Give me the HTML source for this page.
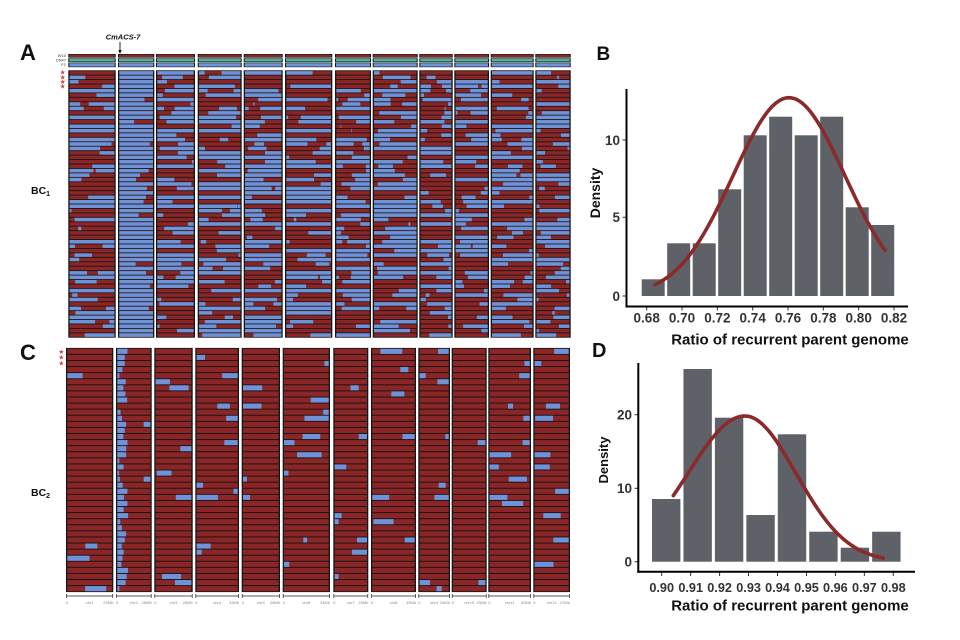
<!DOCTYPE html>
<html><head><meta charset="utf-8">
<style>
html,body{margin:0;padding:0;background:#fff;width:960px;height:640px;overflow:hidden}
svg{display:block}
text{font-family:"Liberation Sans",Arial,sans-serif}
</style></head>
<body>
<svg id="s" width="960" height="640" viewBox="0 0 960 640" xmlns="http://www.w3.org/2000/svg">
<rect x="0" y="0" width="960" height="640" fill="#fff"/>
<g id="heat"></g>
<g id="plots"></g>

<!-- Panel letters -->
<text x="20" y="60" font-size="22" font-weight="bold" fill="#111">A</text>
<text x="20" y="360" font-size="22" font-weight="bold" fill="#111">C</text>
<text x="596.5" y="60" font-size="19" font-weight="bold" fill="#111">B</text>
<text x="592" y="357" font-size="20" font-weight="bold" fill="#111">D</text>

<!-- BC labels -->
<text x="31" y="194" font-size="10.5" font-weight="bold" fill="#111">BC<tspan font-size="7" dy="2">1</tspan></text>
<text x="31" y="496" font-size="10.5" font-weight="bold" fill="#111">BC<tspan font-size="7" dy="2">2</tspan></text>

<!-- CmACS-7 marker -->
<text x="123" y="39.5" font-size="7.5" font-weight="bold" font-style="italic" text-anchor="middle" fill="#111">CmACS-7</text>
<line x1="120" y1="42" x2="120" y2="51" stroke="#111" stroke-width="0.9"/>
<polygon points="118.3,50 121.7,50 120,54" fill="#111"/>

<!-- header row labels -->
<g font-size="4" fill="#333" text-anchor="end">
<text x="66" y="57">W10</text>
<text x="66" y="61.5">CN47</text>
<text x="66" y="66">F1</text>
</g>

<!-- stars -->
<g font-size="6.5" fill="#d03a3a" text-anchor="middle">
<text x="62.7" y="74.6">★</text>
<text x="62.7" y="79.3">★</text>
<text x="62.7" y="84">★</text>
<text x="62.7" y="88.6">★</text>
<text x="61.3" y="354">★</text>
<text x="61.3" y="359.6">★</text>
<text x="61.3" y="365.6">★</text>
</g>

<!-- C bottom chromosome labels -->
<g font-size="4" fill="#888">
<text x="66" y="604">0</text><text x="89.6" y="604" text-anchor="middle">chr1</text><text x="113.3" y="604" text-anchor="end">29Mb</text>
<text x="116" y="604">0</text><text x="133.8" y="604" text-anchor="middle">chr2</text><text x="151.7" y="604" text-anchor="end">25Mb</text>
<text x="154.3" y="604">0</text><text x="173.5" y="604" text-anchor="middle">chr3</text><text x="192.7" y="604" text-anchor="end">28Mb</text>
<text x="195.3" y="604">0</text><text x="217.1" y="604" text-anchor="middle">chr4</text><text x="239" y="604" text-anchor="end">32Mb</text>
<text x="241.7" y="604">0</text><text x="260.8" y="604" text-anchor="middle">chr5</text><text x="280" y="604" text-anchor="end">28Mb</text>
<text x="282.7" y="604">0</text><text x="306.3" y="604" text-anchor="middle">chr6</text><text x="330" y="604" text-anchor="end">34Mb</text>
<text x="333.3" y="604">0</text><text x="350.8" y="604" text-anchor="middle">chr7</text><text x="368.3" y="604" text-anchor="end">25Mb</text>
<text x="371" y="604">0</text><text x="393.5" y="604" text-anchor="middle">chr8</text><text x="416" y="604" text-anchor="end">32Mb</text>
<text x="418.3" y="604">0</text><text x="434.1" y="604" text-anchor="middle">chr9</text><text x="450" y="604" text-anchor="end">24Mb</text>
<text x="451.7" y="604">0</text><text x="469.2" y="604" text-anchor="middle">chr10</text><text x="486.7" y="604" text-anchor="end">25Mb</text>
<text x="488.3" y="604">0</text><text x="509.6" y="604" text-anchor="middle">chr11</text><text x="531" y="604" text-anchor="end">30Mb</text>
<text x="533.3" y="604">0</text><text x="551.6" y="604" text-anchor="middle">chr12</text><text x="570" y="604" text-anchor="end">27Mb</text>
</g>

<!-- Panel B axes -->
<line x1="626.5" y1="89" x2="626.5" y2="307.5" stroke="#000" stroke-width="2"/>
<line x1="625.5" y1="306.5" x2="908" y2="306.5" stroke="#000" stroke-width="2"/>
<g font-size="13.5" font-weight="bold" fill="#333" text-anchor="end">
<text x="620" y="300.8">0</text>
<text x="620" y="222">5</text>
<text x="620" y="144.8">10</text>
</g>
<g font-size="13.5" font-weight="bold" fill="#333" text-anchor="middle">
<text x="646.7" y="322.5">0.68</text>
<text x="682" y="322.5">0.70</text>
<text x="717.4" y="322.5">0.72</text>
<text x="752.7" y="322.5">0.74</text>
<text x="788" y="322.5">0.76</text>
<text x="823.4" y="322.5">0.78</text>
<text x="858.7" y="322.5">0.80</text>
<text x="894" y="322.5">0.82</text>
</g>
<text x="790" y="344.5" font-size="15" font-weight="bold" fill="#111" text-anchor="middle">Ratio of recurrent parent genome</text>
<text transform="translate(600,193) rotate(-90)" font-size="14" font-weight="bold" fill="#111" text-anchor="middle">Density</text>

<!-- Panel D axes -->
<line x1="638.3" y1="363" x2="638.3" y2="572.7" stroke="#000" stroke-width="2"/>
<line x1="637.3" y1="571.7" x2="915" y2="571.7" stroke="#000" stroke-width="2"/>
<g font-size="13.5" font-weight="bold" fill="#333" text-anchor="end">
<text x="632" y="566.5">0</text>
<text x="632" y="493.1">10</text>
<text x="632" y="419.5">20</text>
</g>
<g font-size="12.7" font-weight="bold" fill="#333" text-anchor="middle">
<text x="661.7" y="592">0.90</text>
<text x="690.7" y="592">0.91</text>
<text x="719.6" y="592">0.92</text>
<text x="748.6" y="592">0.93</text>
<text x="777.5" y="592">0.94</text>
<text x="806.5" y="592">0.95</text>
<text x="835.4" y="592">0.96</text>
<text x="864.4" y="592">0.97</text>
<text x="893.3" y="592">0.98</text>
</g>
<text x="790" y="610.5" font-size="15" font-weight="bold" fill="#111" text-anchor="middle">Ratio of recurrent parent genome</text>
<text transform="translate(608,460) rotate(-90)" font-size="13" font-weight="bold" fill="#111" text-anchor="middle">Density</text>
</svg>

<script>
(function(){
var R='#8c2626',B='#6e93d8',K='#161616';
function rng(a){return function(){a|=0;a=a+0x6D2B79F5|0;var t=Math.imul(a^a>>>15,1|a);t=t+Math.imul(t^t>>>7,61|t)^t;return((t^t>>>14)>>>0)/4294967296;}}
var r=rng(20240611);
var out=[];
function rect(x,y,w,h,f){out.push('<rect x="'+x.toFixed(2)+'" y="'+y.toFixed(2)+'" width="'+Math.max(0,w).toFixed(2)+'" height="'+h.toFixed(2)+'" fill="'+f+'"/>');}
function line(x1,y1,x2,y2,c,sw){out.push('<line x1="'+x1+'" y1="'+y1+'" x2="'+x2+'" y2="'+y2+'" stroke="'+c+'" stroke-width="'+sw+'"/>');}

var colsA=[[68.3,115.7],[118,154.3],[156,195],[197.7,241.7],[243.7,282.7],[285,332.3],[335,371],[372.7,417.7],[419.3,452.7],[454.3,489],[490.7,533.7],[535.3,570.7]];
var colsC=[[66,113.3],[116,151.7],[154.3,192.7],[195.3,239],[241.7,280],[282.7,330],[333.3,368.3],[371,416],[418.3,450],[451.7,486.7],[488.3,531],[533.3,570]];
var pA=[0.4,1,0.45,0.4,0.55,0.4,0.35,0.5,0.32,0.45,0.45,0.5];

/* header bars */
colsA.forEach(function(c){
  var w=c[1]-c[0];
  rect(c[0],54,w,3.6,K); rect(c[0]+1,54.6,w-2,2.4,R);
  rect(c[0],58.3,w,3.8,K); rect(c[0]+1,58.9,w-2,2.6,'#4fb596');
  rect(c[0],62.6,w,4.6,K); rect(c[0]+1,63.2,w-2,3.4,B);
});

/* Panel A */
var yA0=70.7,yA1=337.3,nA=60,hA=(yA1-yA0)/nA;
colsA.forEach(function(c,ci){
  rect(c[0],yA0-0.4,c[1]-c[0],yA1-yA0+0.8,K);
  for(var i=0;i<nA;i++){
    var y=yA0+i*hA+0.45,h=hA-0.9,x0=c[0]+1.3,x1=c[1]-1.3,w=x1-x0;
    rect(x0,y,w,h,R);
    var blues=[];
    if(ci==1){
      if(r()<0.2){blues.push([0,0.3+r()*0.65]);} else blues.push([0,1]);
    } else {
      var st=r()<pA[ci],u=r(),k=u<0.42?0:(u<0.9?1:2),bp=[];
      for(var j=0;j<k;j++)bp.push(0.04+r()*0.92);
      bp.sort(function(a,b){return a-b;});
      var pts=[0].concat(bp,[1]),s=st;
      for(var j=0;j<pts.length-1;j++){if(s)blues.push([pts[j],pts[j+1]]);s=!s;}
    }
    blues.forEach(function(b){rect(x0+b[0]*w,y,(b[1]-b[0])*w,h,B);});
  }
});

/* Panel C */
var yC0=348.3,yC1=591.7,nC=40,hC=(yC1-yC0)/nC;
colsC.forEach(function(c,ci){
  rect(c[0],yC0-0.4,c[1]-c[0],yC1-yC0+0.8,K);
  for(var i=0;i<nC;i++){
    var y=yC0+i*hC+0.5,h=hC-1,x0=c[0]+1.3,x1=c[1]-1.3,w=x1-x0;
    rect(x0,y,w,h,R);
    var blues=[];
    if(ci==1){
      if(r()<0.9)blues.push([0,0.05+r()*0.28]);
      if(r()<0.08){var a=0.3+r()*0.5;blues.push([a,Math.min(1,a+0.1+r()*0.3)]);}
    } else {
      var p=(ci==11)?0.25:0.17;
      if(r()<p){
        var t=r(),L=0.06+r()*0.5;
        if(t<0.35)blues.push([0,L]);
        else if(t<0.7)blues.push([1-L,1]);
        else{var a2=r()*(1-L);blues.push([a2,a2+L]);}
      }
    }
    blues.forEach(function(b){rect(x0+b[0]*w,y,(b[1]-b[0])*w,h,B);});
  }
  /* bottom scale */
  line(c[0]+0.5,596,c[1]-0.5,596,'#222',0.7);
  line(c[0]+0.5,594,c[0]+0.5,598,'#222',0.7);
  line(c[1]-0.5,594,c[1]-0.5,598,'#222',0.7);
});
document.getElementById('heat').innerHTML=out.join('');

/* plots */
var p=[];
var G='#5e6168';
var bt=[279.3,243.3,243.3,189.3,135.3,116.7,135.3,116.7,207.3,225];
for(var i=0;i<10;i++){var x=641.7+i*25.5;p.push('<rect x="'+x.toFixed(2)+'" y="'+bt[i]+'" width="23" height="'+(296-bt[i]).toFixed(2)+'" fill="'+G+'"/>');}
var dt=[499,369,417.7,515,434.3,531.7,547.7,531.7];
for(var i=0;i<8;i++){var x=652+i*31.45;p.push('<rect x="'+x.toFixed(2)+'" y="'+dt[i]+'" width="28.4" height="'+(561.7-dt[i]).toFixed(2)+'" fill="'+G+'"/>');}
/* ticks */
[296,217.3,140].forEach(function(y){p.push('<line x1="622.5" y1="'+y+'" x2="626" y2="'+y+'" stroke="#333" stroke-width="1"/>');});
for(var i=0;i<8;i++){var x=646.7+i*35.33;p.push('<line x1="'+x.toFixed(2)+'" y1="307" x2="'+x.toFixed(2)+'" y2="310.5" stroke="#333" stroke-width="1"/>');}
[561.7,488.3,414.7].forEach(function(y){p.push('<line x1="634.5" y1="'+y+'" x2="638" y2="'+y+'" stroke="#333" stroke-width="1"/>');});
for(var i=0;i<9;i++){var x=661.7+i*28.95;p.push('<line x1="'+x.toFixed(2)+'" y1="572.5" x2="'+x.toFixed(2)+'" y2="576" stroke="#333" stroke-width="1"/>');}
/* curves */
var d='';for(var px=655;px<=885;px+=2){var y=296-198.3*Math.exp(-Math.pow(px-789,2)/(2*56*56));d+=(px==655?'M':'L')+px+','+y.toFixed(2);}
p.push('<path d="'+d+'" fill="none" stroke="#8b2a2a" stroke-width="3.6" stroke-linecap="round" stroke-linejoin="round"/>');
var d2='';for(var px=673.3;px<=883.4;px+=2){var s=px<745?57:51;var y=561.7-145.7*Math.exp(-Math.pow(px-745,2)/(2*s*s));d2+=(d2?'L':'M')+px.toFixed(1)+','+y.toFixed(2);}
p.push('<path d="'+d2+'" fill="none" stroke="#8b2a2a" stroke-width="3.6" stroke-linecap="round" stroke-linejoin="round"/>');
document.getElementById('plots').innerHTML=p.join('');
})();
</script>
</body></html>
